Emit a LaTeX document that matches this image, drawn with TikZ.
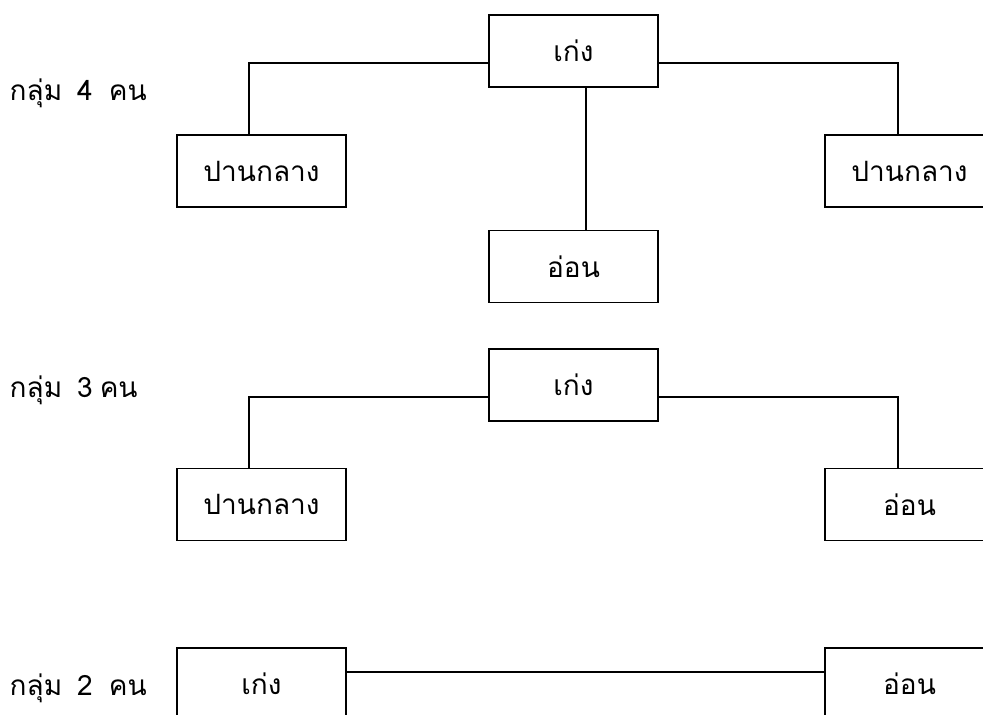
\documentclass[tikz,border=0pt]{standalone}
\usepackage{fontspec}
\newfontfamily\thaifont[Script=Thai]{Loma}
\usetikzlibrary{positioning}

\begin{document}
\begin{tikzpicture}
[x=1pt,y=-1pt,line width=1.3pt,
box/.style={rectangle,draw,minimum width=169pt,minimum height=72pt,
inner sep=0pt,font=\thaifont\fontsize{28}{32}\selectfont},
grp/.style={anchor=west,inner sep=0pt,font=\thaifont\fontsize{28}{32}\selectfont}]
\useasboundingbox (0,0) rectangle (983,715);

% 4 people
\node (g4) at (9,93) [grp] {กลุ่ม\hspace{15pt}4\hspace{16pt}คน};
\node (t4) at (573.5,51) [box] {เก่ง};
\node (l4) at (261.5,171) [box] {ปานกลาง};
\node (r4) at (909.5,171) [box] {ปานกลาง};
\node (b4) at (573.5,266.5) [box] {อ่อน};

\draw ([yshift=-12]t4.west) -| ([xshift=-12.5]l4.north);
\draw ([yshift=-12]t4.east) -| ([xshift=-11.5]r4.north);
\draw ([xshift=12.5]t4.south) -- ([xshift=12.5]b4.north);

% 3 people
\node (g3) at (9,390) [grp] {กลุ่ม\hspace{15pt}3\hspace{7pt}คน};
\node (t3) at (573.5,385) [box] {เก่ง};
\node (l3) at (261.5,504.5) [box] {ปานกลาง};
\node (r3) at (909.5,504.5) [box] {อ่อน};

\draw ([yshift=-12]t3.west) -| ([xshift=-12.5]l3.north);
\draw ([yshift=-12]t3.east) -| ([xshift=-11.5]r3.north);

% 2 people
\node (g2) at (9,688) [grp] {กลุ่ม\hspace{15pt}2\hspace{16pt}คน};
\node (l2) at (261.5,684) [box] {เก่ง};
\node (r2) at (909.5,684) [box] {อ่อน};

\draw ([yshift=12]l2.east) -- ([yshift=12]r2.west);

\end{tikzpicture}
\end{document}
